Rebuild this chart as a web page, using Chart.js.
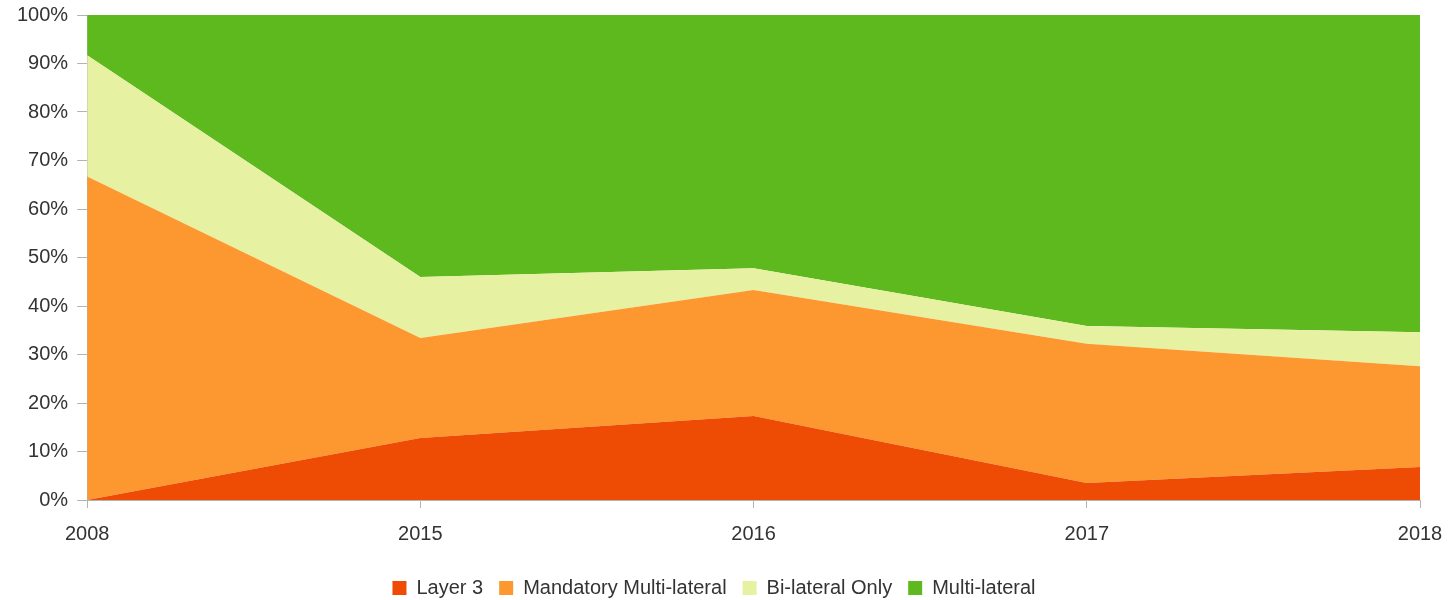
<!DOCTYPE html>
<html>
<head>
<meta charset="utf-8">
<script src="https://cdn.jsdelivr.net/npm/chart.js@4"></script>
<style>
  html, body { margin: 0; padding: 0; background: #fff; }
  #wrap { width: 1453px; height: 600px; }
</style>
</head>
<body>
<div id="wrap"><canvas id="shareChart"></canvas></div>
<script>
const years = ["2008", "2015", "2016", "2017", "2018"];
const layer3 = [0, 12.8, 17.3, 3.5, 6.8];
const mandatoryMulti = [66.7, 20.6, 26.0, 28.7, 20.8];
const bilateralOnly = [25.0, 12.6, 4.5, 3.7, 7.0];
const multilateral = [8.3, 54.0, 52.2, 64.1, 65.4];

document.addEventListener("DOMContentLoaded", () => {
  const ctx = document.getElementById("shareChart");
  Chart.defaults.font.family = "'Liberation Sans', Arial, sans-serif";
  Chart.defaults.color = "#333";

  const area = (label, data, color, fill) => ({
    label,
    data,
    backgroundColor: color,
    borderColor: color,
    borderWidth: 0,
    pointRadius: 0,
    fill,
    tension: 0,
  });

  new Chart(ctx, {
    type: "line",
    data: {
      labels: years,
      datasets: [
        area("Layer 3", layer3, "#ee4b05", "origin"),
        area("Mandatory Multi-lateral", mandatoryMulti, "#fd9830", "-1"),
        area("Bi-lateral Only", bilateralOnly, "#e7f1a2", "-1"),
        area("Multi-lateral", multilateral, "#5eb91e", "-1"),
      ],
    },
    options: {
      responsive: true,
      maintainAspectRatio: false,
      animation: false,
      // legend sits a little lower than chart.js would put it
      layout: {
        padding: { top: 15, right: 33, left: 8, bottom: -8 },
      },
      plugins: {
        legend: {
          position: "bottom",
          labels: {
            boxWidth: 14,
            boxHeight: 14,
            padding: 16,
            font: { size: 20 },
          },
        },
        tooltip: { enabled: false },
      },
      scales: {
        x: {
          offset: false,
          grid: {
            drawOnChartArea: false,
            drawTicks: true,
            tickLength: 8,
            color: "#b3b3b3",
          },
          border: { color: "#b3b3b3" },
          // tall line height pushes the year labels down without extra right padding
          ticks: { font: { size: 20, lineHeight: 1.6 }, padding: 10, maxRotation: 0 },
          afterFit: (scale) => {
            scale.height += 2;
          },
        },
        y: {
          stacked: true,
          min: 0,
          max: 100,
          grid: {
            drawOnChartArea: false,
            drawTicks: true,
            tickLength: 10,
            color: "#b3b3b3",
          },
          border: { color: "#b3b3b3" },
          ticks: {
            stepSize: 10,
            font: { size: 20, lineHeight: 0.6 },
            padding: 9,
            callback: (v) => v + "%",
          },
        },
      },
    },
  });
});
</script>
</body>
</html>
